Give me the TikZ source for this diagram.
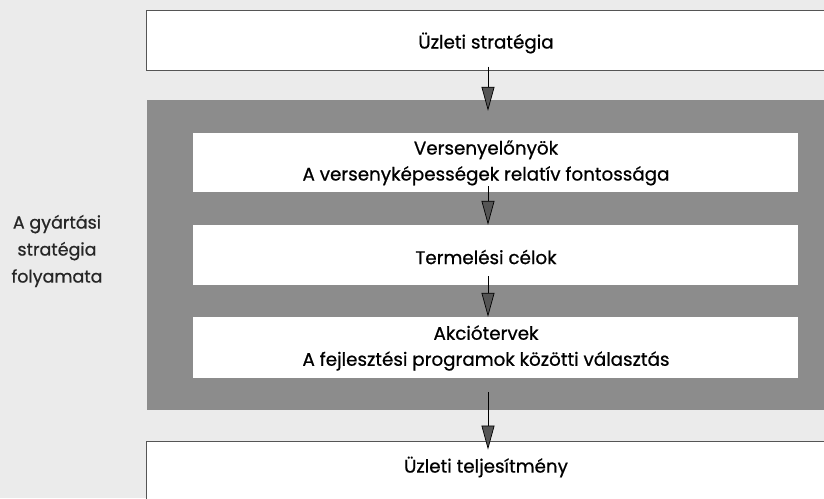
\documentclass[tikz,border=0pt]{standalone}
\usepackage{fontspec}
\setmainfont{Poppins}[FakeBold=0.7]
\usetikzlibrary{arrows.meta}
\definecolor{pagebg}{HTML}{EBEBEB}
\definecolor{panelgray}{HTML}{8C8C8C}
\definecolor{rulegray}{HTML}{555555}
\definecolor{headgray}{HTML}{555555}
\tikzset{
  frame/.style={draw=rulegray, line width=0.9pt, fill=white, inner sep=0pt},
  whitebox/.style={fill=white, inner sep=0pt},
  panel/.style={fill=panelgray, inner sep=0pt},
  caption/.style={font=\fontsize{18.3}{26}\selectfont, align=center, inner sep=0pt},
  sidecap/.style={font=\fontsize{17.5}{27}\selectfont, align=center, inner sep=0pt, text=black!85},
  flow/.style={draw=black, line width=0.7pt,
    -{Triangle[length=24pt, width=13pt, fill=headgray]}}
}
\begin{document}
\begin{tikzpicture}[x=1pt, y=-1pt]
  \useasboundingbox (0,0) rectangle (824,498);
  \clip (0,0) rectangle (824,498);
  \fill[pagebg] (0,0) rectangle (824,498);

  % outer stages
  \node[frame, minimum width=682pt, minimum height=60pt] (topbox) at (487,40) {};
  \node[caption] (topcap) at (486,43) {Üzleti stratégia};

  \node[panel, minimum width=680pt, minimum height=310pt] (panel) at (487,255) {};

  \node[frame, minimum width=682pt, minimum height=80pt] (botbox) at (487,481) {};
  \node[caption] (botcap) at (486,467) {Üzleti teljesítmény};

  % inner steps of the process
  \node[whitebox, minimum width=605pt, minimum height=59pt] (stepA) at (495.5,162.5) {};
  \node[caption] (capA) at (486,163) {Versenyelőnyök\\A versenyképességek relatív fontossága};

  \node[whitebox, minimum width=605pt, minimum height=60pt] (stepB) at (495.5,255) {};
  \node[caption] (capB) at (486,257) {Termelési célok};

  \node[whitebox, minimum width=605pt, minimum height=61pt] (stepC) at (495.5,347.5) {};
  \node[caption] (capC) at (486,348) {Akciótervek\\A fejlesztési programok közötti választás};

  % side label
  \node[sidecap] (side) at (57,251) {A gyártási\\stratégia\\folyamata};

  % the arrows run on one vertical line, just right of the captions' centre
  \coordinate (axis) at (488,0);

  % connectors
  \draw[flow] ([yshift=-13pt]topcap.south -| axis) -- ([yshift=-11pt]panel.north -| axis);
  \draw[flow] ([yshift=6pt]stepA.south -| axis) -- (stepB.north -| axis);
  \draw[flow] ([yshift=9pt]stepB.south -| axis) -- (stepC.north -| axis);
  \draw[flow] ([yshift=18pt]panel.south -| axis) -- ([yshift=-9pt]botbox.north -| axis);
\end{tikzpicture}
\end{document}
